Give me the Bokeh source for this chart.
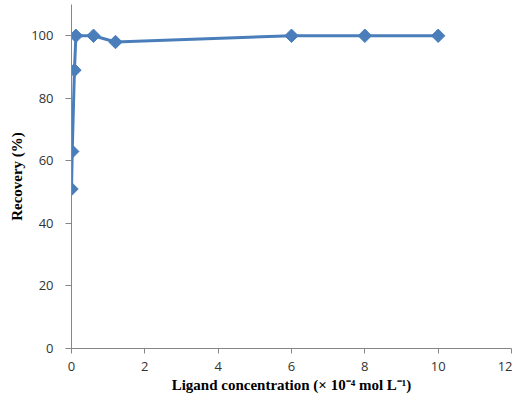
import math
from bokeh.plotting import figure
from bokeh.models import Range1d, FixedTicker
from bokeh.embed import file_html
from bokeh.resources import INLINE

conc = [0.0, 0.02, 0.08, 0.12, 0.6, 1.2, 6.0, 8.0, 10.0]
recovery = [51, 63, 89, 100, 100, 98, 100, 100, 100]
x_ticks = [0, 2, 4, 6, 8, 10, 12]
y_ticks = [0, 20, 40, 60, 80, 100]

p = figure(width=506, height=395, output_backend="svg", toolbar_location=None,
           x_range=Range1d(0, 12), y_range=Range1d(0, 110),
           min_border_left=5, min_border_right=1, min_border_top=4, min_border_bottom=5)
p.margin = (0, 0, 0, 6)
p.outline_line_color = None
p.xgrid.visible = False
p.ygrid.visible = False

blue = "#4a7ebb"
p.line(conc, recovery, line_color=blue, line_width=3)
p.scatter(conc, recovery, marker="square", angle=math.pi / 4, size=9.5,
          fill_color=blue, line_color=blue)

for ax in (p.xaxis[0], p.yaxis[0]):
    ax.axis_line_color = "#868686"
    ax.major_tick_line_color = "#868686"
    ax.minor_tick_line_color = None
    ax.major_tick_out = 6
    ax.major_tick_in = 0
    ax.major_label_text_font = "Open Sans"
    ax.major_label_text_font_size = "13px"
    ax.major_label_text_color = "#333333"
    ax.axis_label_text_font = "Liberation Serif"
    ax.axis_label_text_font_style = "bold"
    ax.axis_label_text_font_size = "15px"
    ax.axis_label_text_color = "#000000"

p.xaxis.major_tick_out = 5
p.xaxis.ticker = FixedTicker(ticks=x_ticks)
p.yaxis.ticker = FixedTicker(ticks=y_ticks)
p.xaxis.axis_label = "Ligand concentration (× 10⁻⁴ mol L⁻¹)"
p.yaxis.axis_label = "Recovery (%)"
p.xaxis.major_label_standoff = 8
p.xaxis.axis_label_standoff = 3
p.yaxis.major_label_standoff = 12
p.yaxis.axis_label_standoff = 3

open("out.html", "w").write(file_html(p, INLINE))
